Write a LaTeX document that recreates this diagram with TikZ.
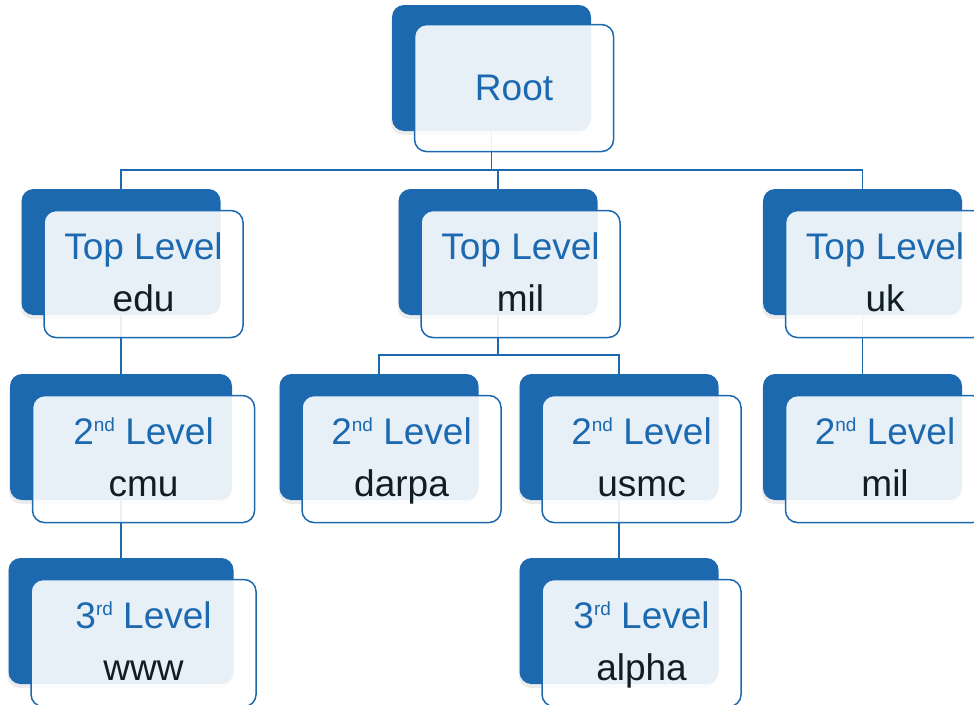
\documentclass[tikz,border=0pt]{standalone}
\usepackage{fontspec}
\setmainfont{Liberation Sans}
\usetikzlibrary{shadows, backgrounds}
\definecolor{boxblue}{RGB}{29,105,176}
\definecolor{inkdark}{RGB}{16,30,36}
\newcommand{\lvl}[2]{{\color{boxblue}#1}\\{\color{inkdark}#2}}
\newcommand{\ordsup}[1]{\smash{\raisebox{13pt}{\fontsize{19}{19}\selectfont #1}}}
\tikzset{
	back/.style={fill=boxblue, rounded corners=12pt, minimum width=199pt, minimum height=126pt, inner sep=0pt,
		drop shadow={shadow xshift=-1pt, shadow yshift=-4pt, opacity=0.15}}, % dark card behind
	front/.style={anchor=north west, draw=boxblue, line width=1.5pt, fill=white, fill opacity=0.9, text opacity=1,
		rounded corners=12pt, minimum width=199pt, minimum height=127pt, inner sep=0pt, align=center,
		font=\fontsize{37}{52}\selectfont}, % light card with the labels
	two lines/.style={text depth=4pt},
	link/.style={draw=boxblue, line width=1.8pt}, % tree connectors
}
\begin{document}
\begin{tikzpicture}[x=1pt, y=-1pt]
	\useasboundingbox (0,0) rectangle (974,704);
	\clip (0,0) rectangle (974,704);
			\node[back] (root) at (491.5,68) {};
			\node[front, yshift=2pt] (rootF) at ([shift={(22,21)}]root.north west) {\color{boxblue}Root};
			\node[back] (tedu) at (121,252) {};
			\node[front, two lines] (teduF) at ([shift={(22,21)}]tedu.north west) {\lvl{Top Level}{edu}};
			\node[back] (tmil) at (498,252) {};
			\node[front, two lines] (tmilF) at ([shift={(22,21)}]tmil.north west) {\lvl{Top Level}{mil}};
			\node[back] (tuk) at (862.5,252) {};
			\node[front, two lines] (tukF) at ([shift={(22,21)}]tuk.north west) {\lvl{Top Level}{uk}};
			\node[back, minimum width=222pt] (scmu) at (121,437) {};
			\node[front, two lines, minimum width=222pt] (scmuF) at ([shift={(22,21)}]scmu.north west) {\lvl{2\ordsup{nd} Level}{cmu}};
			\node[back] (sdarpa) at (379,437) {};
			\node[front, two lines] (sdarpaF) at ([shift={(22,21)}]sdarpa.north west) {\lvl{2\ordsup{nd} Level}{darpa}};
			\node[back] (susmc) at (619,437) {};
			\node[front, two lines] (susmcF) at ([shift={(22,21)}]susmc.north west) {\lvl{2\ordsup{nd} Level}{usmc}};
			\node[back] (smil) at (862.5,437) {};
			\node[front, two lines] (smilF) at ([shift={(22,21)}]smil.north west) {\lvl{2\ordsup{nd} Level}{mil}};
			\node[back, minimum width=225pt] (twww) at (121,621) {};
			\node[front, two lines, minimum width=225pt] (twwwF) at ([shift={(22,21)}]twww.north west) {\lvl{3\ordsup{rd} Level}{www}};
			\node[back] (talpha) at (619,621) {};
			\node[front, two lines] (talphaF) at ([shift={(22,21)}]talpha.north west) {\lvl{3\ordsup{rd} Level}{alpha}};
	\begin{scope}[on background layer]
			\coordinate (rj) at (root.south |- 0,170);
			\coordinate (mj) at (tmil.south |- 0,355);
		\draw[link] (root.south) -- (rj) -| (tedu.north);
		\draw[link] (rj) -| (tmil.north);
		\draw[link] (rj) -| (tuk.north);
		\draw[link] (tmil.south) -- (mj) -| (sdarpa.north);
		\draw[link] (mj) -| (susmc.north);
		\draw[link] (tedu.south) -- (scmu.north);
		\draw[link] (scmu.south) -- (twww.north);
		\draw[link] (susmc.south) -- (talpha.north);
		\draw[link] (tuk.south) -- (smil.north);
	\end{scope}
\end{tikzpicture}
\end{document}
